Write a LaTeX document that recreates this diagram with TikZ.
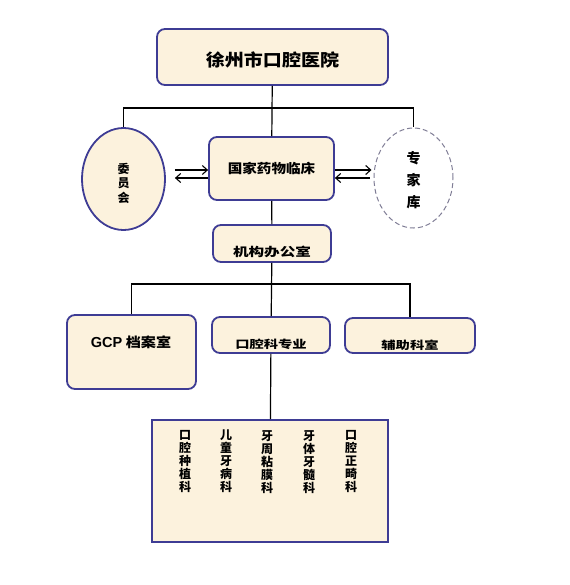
\documentclass[tikz,border=0pt]{standalone}
\usepackage{fontspec}
\setmainfont{Liberation Sans}
\newfontfamily\cjk{Noto Sans CJK SC}
\newfontfamily\cjkmid{Noto Sans CJK SC}[FakeStretch=1.12]
\newfontfamily\cjkwide{Noto Sans CJK SC}[FakeStretch=1.3]
\newfontfamily\latn{Liberation Sans}
\usetikzlibrary{arrows,shapes,positioning,arrows.meta}
\definecolor{boxfill}{RGB}{252,242,221}
\definecolor{boxline}{RGB}{62,60,148}
\definecolor{dashline}{RGB}{128,126,150}

\begin{document}
\begin{tikzpicture}[x=1pt,y=-1pt,
  unit/.style={draw=boxline,line width=1.8pt,fill=boxfill,rounded corners=8pt,inner sep=0pt},
  link/.style={line width=1.2pt},
  arr/.style={line width=1.1pt,-{Straight Barb[length=5pt,width=9pt]}},
  col/.style={anchor=north,align=center,inner sep=0pt,font=\cjk\bfseries\fontsize{12}{13}\selectfont}]
\useasboundingbox (0,0) rectangle (569,585);

% top level
\node[unit,minimum width=231pt,minimum height=56pt,text height=19pt,text depth=0pt,font=\cjkmid\bfseries\fontsize{17}{18}\selectfont] (hosp) at (272.5,57) {徐州市口腔医院};
\node[unit,minimum width=125pt,minimum height=63pt,font=\cjkmid\bfseries\fontsize{13}{14}\selectfont] (gjyw) at (271.5,168.5) {国家药物临床};
\node[draw=boxline,line width=1.8pt,fill=boxfill,ellipse,minimum width=83pt,minimum height=102pt,inner sep=0pt,align=center,text height=47pt,text depth=0pt,font=\cjk\bfseries\fontsize{12}{14.5}\selectfont] (wyh) at (123.5,179) {委\\员\\会};
\node[draw=dashline,dash pattern=on 5pt off 3pt,line width=1pt,ellipse,minimum width=79pt,minimum height=100pt,inner sep=0pt,align=center,text height=58.5pt,text depth=0pt,font=\cjk\bfseries\fontsize{14}{22}\selectfont] (zjk) at (413.5,178) {专\\家\\库};
\node[unit,minimum width=118pt,minimum height=37pt,text height=26pt,text depth=0pt,font=\cjkwide\bfseries\fontsize{12}{13}\selectfont] (jgb) at (272,243.5) {机构办公室};

% second level
\node[unit,minimum width=129pt,minimum height=74pt] (gcp) at (131.5,352) {};
\node[inner sep=0pt,font=\cjkmid\bfseries\fontsize{13.5}{15}\selectfont] (gcptxt) at (131,342) {{\latn\bfseries\fontsize{14.5}{15}\selectfont GCP} 档案室};
\node[unit,minimum width=118pt,minimum height=36pt,text height=26.5pt,text depth=0pt,font=\cjkwide\bfseries\fontsize{11}{13}\selectfont] (kqk) at (271,335) {口腔科专业};
\node[unit,minimum width=130pt,minimum height=35pt,text height=27.5pt,text depth=0pt,font=\cjkwide\bfseries\fontsize{11}{13}\selectfont] (fzk) at (410,335.5) {辅助科室};

% departments
\node[draw=boxline,line width=1.8pt,fill=boxfill,minimum width=236pt,minimum height=122pt,inner sep=0pt] (subs) at (270,481) {};
\node[col] (k1) at (185,430) {口\\腔\\种\\植\\科};
\node[col] (k2) at (226,430) {儿\\童\\牙\\病\\科};
\node[col] (k3) at (267,430) {牙\\周\\粘\\膜\\科};
\node[col] (k4) at (309,430) {牙\\体\\牙\\髓\\科};
\node[col] (k5) at (351,430) {口\\腔\\正\\畸\\科};

% connectors
\coordinate (bus1) at (272,108);
\coordinate (bus2) at (272,284);
\draw[link] (hosp) -- (gjyw);
\draw[link] (bus1) -| (wyh.north);
\draw[link] (bus1) -| (zjk.north);
\draw[link] (gjyw) -- (jgb);
\draw[link] (jgb) -- (kqk);
\draw[link] (bus2) -| (gcp.north);
\draw[link] (bus2) -| (fzk.north);
\draw[link] (kqk) -- (subs);

\draw[arr] ([xshift=9pt,yshift=9pt]wyh.east) -- ([yshift=-1.5pt]gjyw.west);
\draw[arr] ([yshift=-9.5pt]gjyw.west) -- ([xshift=9pt,yshift=1pt]wyh.east);
\draw[arr] ([yshift=-1.5pt]gjyw.east) -- ([xshift=-2pt,yshift=8pt]zjk.west);
\draw[arr] ([xshift=-4pt]zjk.west) -- ([yshift=-9.5pt]gjyw.east);
\end{tikzpicture}
\end{document}
